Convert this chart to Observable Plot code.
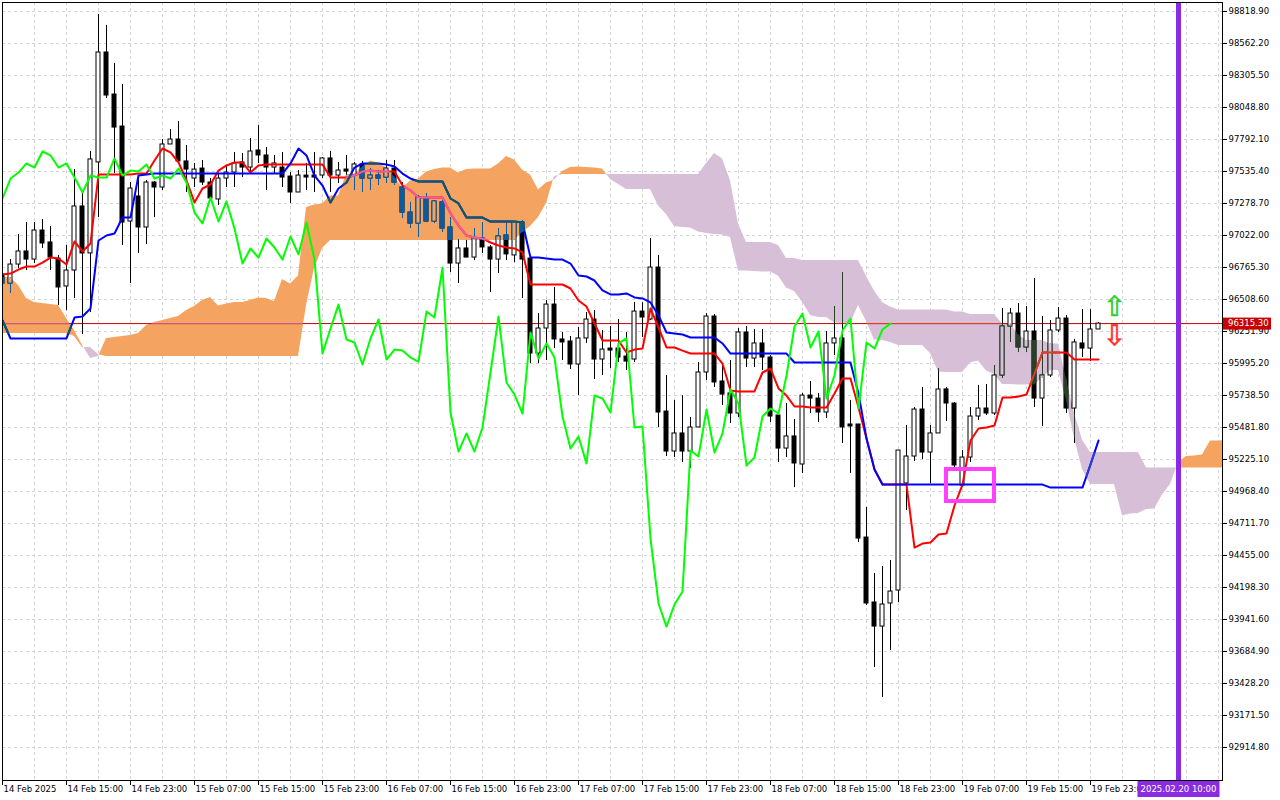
<!DOCTYPE html>
<html><head><meta charset="utf-8">
<script src="https://cdn.jsdelivr.net/npm/d3@7"></script>
<script src="https://cdn.jsdelivr.net/npm/@observablehq/plot@0.6"></script>
<style>
html,body{margin:0;padding:0;background:#fff;}
#chart{width:1280px;height:800px;}
</style></head><body><div id="chart"></div>
<script>
// ---- Hourly BTC candles, 14 Feb 2025 07:00 (bar 0) .. 20 Feb 2025 00:00 (bar 137)
const opens = [96709,96637,96789,96894,96829,97062,96966,96837,96613,96741,
97255,96878,97608,98490,98153,97896,97134,97335,97086,97447,
97407,97752,97792,97616,97479,97559,97447,97311,97479,97527,
97608,97567,97704,97664,97567,97567,97495,97367,97503,97503,
97503,97640,97503,97551,97503,97592,97479,97503,97487,97559,
97407,97206,97118,97319,97134,97287,97086,96797,96918,96845,
96998,96926,96829,97022,96862,97126,96837,96075,96276,96468,
96188,96172,95987,96196,96348,96027,96115,96115,96051,96027,
96412,96348,96765,95610,95289,95434,95289,95482,95923,96372,
95851,95755,95594,96244,96035,96156,96043,95578,95313,95410,
95185,95738,95714,95602,96156,96196,95506,95506,94599,94078,
93885,94070,94174,95033,95249,95626,95281,95434,95787,95674,
95016,95241,95570,95634,95594,95899,96292,96396,96124,96252,
95714,95899,96260,96356,95634,96156,96115,96268];
const highs = [96725,96829,97030,97126,97126,97150,97094,96862,96942,97551,
97375,97696,98795,98707,98402,98233,97447,97503,97463,97455,
97792,97872,97936,97744,97600,97624,97479,97519,97584,97688,
97680,97800,97904,97728,97664,97688,97527,97543,97600,97688,
97648,97696,97608,97664,97608,97616,97559,97543,97624,97624,
97447,97287,97343,97359,97303,97303,97166,96990,96982,97078,
97126,96942,97078,97126,97134,97142,96837,96396,96501,96605,
96244,96212,96284,96404,96420,96260,96292,96348,96244,96485,
96485,96998,96862,95899,95698,95738,95562,96003,96396,96388,
95995,96019,96276,96292,96268,96268,96059,95578,95674,95546,
95755,95851,95755,96252,96452,96725,95698,95506,94840,94311,
94367,94415,95297,95498,95642,95803,95498,95955,95803,95682,
95297,95642,95819,95827,95979,96436,96436,96476,96452,96677,
96372,96340,96444,96380,96188,96428,96428,96324];
const lows = [96557,96557,96757,96741,96797,96918,96741,96460,96420,96517,
96228,96404,97166,98121,97519,96942,96637,96878,96950,97166,
97383,97752,97608,97367,97407,97423,97303,97263,97407,97407,
97487,97527,97600,97383,97519,97407,97279,97367,97383,97367,
97479,97367,97439,97503,97383,97367,97383,97423,97439,97423,
97158,97078,97006,97126,97118,97046,96725,96637,96845,96821,
96878,96565,96717,96821,96805,96517,95995,95995,96019,96115,
96019,95947,95738,96156,95867,95899,95955,96003,95939,96003,
96204,96340,95482,95249,95241,95201,95153,95482,95859,95803,
95658,95514,95562,95963,95963,95939,95522,95201,95241,95000,
95113,95594,95522,95554,96059,95353,95113,94559,94054,93556,
93316,93693,94078,94816,95209,95225,95033,95434,95530,95161,
95000,95201,95538,95578,95578,95875,96164,96083,96083,95642,
95490,95883,96244,95594,95353,96043,96011,96268];
const closes = [96637,96789,96894,96829,97062,96958,96845,96605,96741,97255,
96878,97632,98490,98145,97888,97126,97399,97086,97447,97407,
97752,97792,97616,97551,97551,97447,97319,97479,97527,97600,
97567,97696,97664,97567,97600,97487,97367,97503,97487,97487,
97640,97503,97543,97535,97592,97479,97503,97479,97559,97447,
97206,97118,97327,97134,97295,97078,96797,96918,96845,96998,
96926,96829,97014,96870,97126,96829,96075,96276,96468,96188,
96164,95987,96196,96348,96027,96107,96099,96043,96011,96412,
96364,96765,95602,95289,95434,95289,95482,95923,96372,95843,
95746,95594,96244,96035,96156,96043,95570,95313,95410,95193,
95738,95714,95602,96156,96196,95482,95490,94591,94070,93885,
94062,94166,95297,95249,95626,95281,95434,95787,95674,95177,
95241,95570,95634,95594,95899,96292,96396,96124,96252,95714,
95899,96260,96356,95634,96164,96115,96268,96315.3];

// ---- Ichimoku lines (Tenkan-sen red, Kijun-sen blue), per bar
const tenkan = [96709,96717,96749,96773,96773,96805,96845,96837,96789,96974,
96894,96958,97511,97511,97511,97511,97511,97519,97519,97624,
97720,97688,97608,97463,97287,97399,97431,97543,97584,97608,
97608,97527,97584,97592,97592,97592,97592,97592,97592,97592,
97592,97487,97487,97487,97503,97535,97543,97535,97535,97535,
97423,97383,97327,97327,97327,97327,97198,97102,97022,97006,
96998,96966,96942,96926,96918,96886,96629,96629,96629,96629,
96629,96597,96501,96452,96316,96180,96180,96180,96083,96107,
96115,96436,96284,96124,96124,96099,96075,96075,96075,96075,
95995,95779,95771,95771,95771,95923,95955,95795,95738,95650,
95650,95642,95642,95642,95755,95875,95875,95642,95393,95145,
95024,95024,95024,95024,94519,94551,94559,94623,94631,94856,
95024,95377,95474,95482,95498,95722,95722,95730,95746,95915,
96083,96083,96083,96083,96027,96027,96027,96027];
const kijun = [96340,96196,96196,96196,96196,96196,96196,96196,96196,96364,
96372,96436,96982,97022,97038,97166,97166,97503,97511,97519,
97519,97519,97519,97519,97519,97519,97519,97519,97519,97519,
97519,97519,97519,97519,97519,97519,97600,97720,97664,97503,
97423,97287,97399,97447,97567,97600,97600,97600,97592,97575,
97519,97479,97455,97455,97455,97455,97319,97279,97166,97166,
97166,97134,97134,97134,97134,97126,96845,96845,96837,96829,
96829,96797,96701,96693,96661,96581,96549,96549,96557,96525,
96517,96485,96380,96244,96236,96228,96204,96204,96204,96204,
96156,96075,96075,96075,96075,96075,96075,96075,96075,96003,
96003,96003,96003,96003,96003,96003,96003,95755,95393,95145,
95024,95024,95024,95024,95024,95024,95024,95024,95024,95024,
95024,95024,95024,95024,95024,95024,95024,95024,95024,95024,
95024,95000,95000,95000,95000,95000,95185,95377];

// ---- Senkou spans (already displaced 26 bars forward), bar 0 .. 153
const spanA = [96685,96685,96621,96517,96485,96476,96468,96460,96356,96260,
96140,96035,96051,96196,96204,96212,96220,96236,96300,96324,
96340,96356,96372,96420,96452,96501,96525,96456,96472,96485,
96485,96501,96521,96517,96493,96669,96633,96697,97247,97267,
97275,97339,97339,97511,97515,97571,97620,97604,97563,97491,
97403,97459,97475,97531,97551,97563,97563,97523,97551,97555,
97555,97555,97596,97656,97628,97547,97507,97387,97443,97467,
97535,97567,97571,97567,97563,97555,97471,97431,97391,97391,
97391,97391,97259,97190,97094,97086,97082,97050,97038,97030,
97026,97006,96737,96737,96733,96729,96729,96697,96601,96573,
96489,96380,96364,96364,96320,96316,96316,96460,96332,96184,
96180,96164,96140,96140,96140,96140,96075,95927,95923,95923,
95923,95999,96015,95935,95907,95827,95827,95823,95823,95823,
95879,95939,95939,95698,95393,95145,95024,95024,95024,95024,
94772,94788,94792,94824,94828,94940,95024,95201,95249,95253,
95261,95373,95373,95377];
const spanB = [96236,96236,96236,96236,96236,96236,96236,96236,96236,96212,
96124,96124,96067,96051,96051,96051,96051,96051,96051,96051,
96051,96051,96051,96051,96051,96051,96051,96051,96051,96051,
96051,96051,96051,96051,96051,96051,96051,96051,96460,96757,
96918,96982,96982,96982,96982,96982,96982,96982,96982,96982,
96982,96982,96982,96982,96982,96982,96982,96982,96982,96982,
96982,96982,96982,96982,96982,97046,97094,97166,97279,97495,
97511,97511,97511,97511,97511,97511,97511,97511,97511,97511,
97511,97511,97511,97511,97511,97511,97511,97511,97600,97680,
97636,97459,97114,96966,96966,96966,96966,96942,96837,96837,
96821,96821,96821,96821,96821,96821,96821,96821,96693,96577,
96485,96448,96424,96424,96424,96424,96424,96424,96424,96408,
96408,96388,96388,96388,96388,96312,96312,96224,96180,96180,
96180,96152,96152,95863,95598,95380,95281,95281,95281,95281,
95281,95281,95281,95157,95157,95157,95157,95157,95157,95157,
95157,95157,95157,95157];
const chikouShift = 26;

// ---- axes
const priceTicks = [92914.8,93171.5,93428.2,93684.9,93941.6,94198.3,94455.0,94711.7,
94968.4,95225.1,95481.8,95738.5,95995.2,96251.9,96508.6,96765.3,97022.0,97278.7,
97535.4,97792.1,98048.8,98305.5,98562.2,98818.9];
const timeLabels = ["14 Feb 2025","14 Feb 15:00","14 Feb 23:00","15 Feb 07:00","15 Feb 15:00",
"15 Feb 23:00","16 Feb 07:00","16 Feb 15:00","16 Feb 23:00","17 Feb 07:00","17 Feb 15:00",
"17 Feb 23:00","18 Feb 07:00","18 Feb 15:00","18 Feb 23:00","19 Feb 07:00","19 Feb 15:00","19 Feb 23:00"];
const barsPerLabel = 8;

// ---- annotations
const lastPrice = 96315.3;
const markerBar = 147, markerLabel = "2025.02.20 10:00";
const signalBox = [{bar1: 118, bar2: 124, p1: 94888, p2: 95145}];
const upArrows = [{bar: 139, price: 96452}];
const downArrows = [{bar: 139, price: 96212}];

// ---- colours: normal, and as seen through the up (SandyBrown) / down (Thistle) kumo
const kumoColor = {up: "#f4a460", down: "#d8bfd8"};
const normal = {bar: "black", bull: "white", tenkan: "#ff0000", kijun: "#0000ff", price: "#c00000"};
const inside = {
  up:   {bar: "#0b5b9f", bull: "#f4a460", tenkan: "#f45b9f", kijun: "#0b5b60", price: "#cb5b9f"},
  down: {bar: "#274027", bull: "#d8bfd8", tenkan: "#d84027", kijun: "#2740d8", price: "#e74027"}
};

// ---- derived tables
const candles = opens.map((o, i) => ({i, o, h: highs[i], l: lows[i], c: closes[i]}));
const tk = tenkan.map((v, i) => ({i, v}));
const kj = kijun.map((v, i) => ({i, v}));
const chikou = closes.slice(chikouShift).map((v, i) => ({i, v}));
const timeTicks = timeLabels.map((label, k) => ({bar: k * barsPerLabel, label}));

// split kumo into up (A above B) and down parts at the crossings of the two spans
const pts = [];
for (let i = 0; i < spanA.length; i++) {
  const a = spanA[i], b = spanB[i];
  pts.push({x: i, a, b});
  if (i + 1 < spanA.length) {
    const d0 = a - b, d1 = spanA[i + 1] - spanB[i + 1];
    if (d0 * d1 < 0) {
      const t = d0 / (d0 - d1);
      const v = a + (spanA[i + 1] - a) * t;
      pts.push({x: i + t, a: v, b: v});
    }
  }
}
const kumoUp = pts.map(p => ({x: p.x, y1: p.a >= p.b ? p.b : NaN, y2: p.a >= p.b ? p.a : NaN}));
const kumoDown = pts.map(p => ({x: p.x, y1: p.b >= p.a ? p.a : NaN, y2: p.b >= p.a ? p.b : NaN}));

const FONT = "'DejaVu Sans', Tahoma, sans-serif";
const grid = {stroke: "#d4d4d4", strokeDasharray: "3,3", strokeWidth: 1};

// candle + line marks in a given palette
function priceMarks(pal, desc) {
  const a = desc ? {ariaDescription: desc} : {clip: true};
  return [
    Plot.ruleY([lastPrice], {stroke: pal.price, strokeWidth: 1, ...a}),
    Plot.ruleX(candles, {x: "i", y1: "l", y2: "h", stroke: pal.bar, strokeWidth: 1, ...a}),
    Plot.rect(candles, {x1: d => d.i - 0.25, x2: d => d.i + 0.25, y1: "o", y2: "c",
      fill: d => d.c >= d.o ? pal.bull : pal.bar, stroke: pal.bar, strokeWidth: 1, ...a}),
    Plot.line(tk, {x: "i", y: "v", stroke: pal.tenkan, strokeWidth: 2, ...a}),
    Plot.line(kj, {x: "i", y: "v", stroke: pal.kijun, strokeWidth: 2, ...a})
  ];
}

const plot = Plot.plot({
  width: 1280, height: 800,
  marginLeft: 2, marginRight: 58, marginTop: 2, marginBottom: 20,
  x: {domain: [0, 152.5], ticks: timeTicks.map(d => d.bar), tickSize: 5, tickFormat: () => "", label: null},
  y: {domain: [92650.1, 98891.1], axis: "right", ticks: priceTicks, tickFormat: d => d.toFixed(2), tickSize: 4, tickPadding: 2, label: null},
  style: {fontFamily: FONT, fontSize: "8.5px", background: "white", color: "black", overflow: "visible"},
  marks: [
    Plot.frame({fill: "white", stroke: null}),
    Plot.ruleY(priceTicks, grid),
    Plot.ruleX(d3.range(4, 153, 4), grid),
    Plot.areaY(kumoUp, {x: "x", y1: "y1", y2: "y2", fill: kumoColor.up, clip: true, ariaDescription: "kumo-up"}),
    Plot.areaY(kumoDown, {x: "x", y1: "y1", y2: "y2", fill: kumoColor.down, clip: true, ariaDescription: "kumo-down"}),
    ...priceMarks(normal),
    ...priceMarks(inside.up, "inside-up"),
    ...priceMarks(inside.down, "inside-down"),
    Plot.line(chikou, {x: "i", y: "v", stroke: "#00ff00", strokeWidth: 2, clip: true}),
    Plot.ruleX([markerBar], {stroke: "#8a2be2", strokeWidth: 5}),
    Plot.rect(signalBox, {x1: "bar1", x2: "bar2", y1: "p1", y2: "p2", fill: "none", stroke: "#ff40ff", strokeWidth: 4}),
    Plot.text(upArrows, {x: "bar", y: "price", text: () => "⇧", fill: "#33cc33", stroke: "#33cc33", strokeWidth: 0.6, fontSize: 28, fontFamily: "DejaVu Sans"}),
    Plot.text(downArrows, {x: "bar", y: "price", text: () => "⇩", fill: "#ff3030", stroke: "#ff3030", strokeWidth: 0.6, fontSize: 28, fontFamily: "DejaVu Sans"}),
    Plot.text(timeTicks, {x: "bar", text: "label", frameAnchor: "bottom", dy: 11, dx: 1, textAnchor: "start", fill: "black"}),
    Plot.frame({stroke: "black"})
  ]
});

document.getElementById("chart").appendChild(plot);

const sx = plot.scale("x"), sy = plot.scale("y");
const svg = d3.select(plot);

// restrict the "inside" copies to the kumo shapes
const defs = svg.insert("defs", ":first-child");
for (const side of ["up", "down"]) {
  const copies = svg.selectAll(`g[aria-description="inside-${side}"]`);
  let area = svg.select(`g[aria-description="kumo-${side}"]`);
  if (area.empty()) {
    const areas = svg.selectAll('g[aria-label="area"]').nodes();
    area = d3.select(areas[side === "up" ? 0 : 1] || null);
  }
  const paths = area.empty() ? [] : area.selectAll("path").nodes();
  if (!paths.length) { copies.remove(); continue; }
  const cp = defs.append("clipPath").attr("id", "kumo-clip-" + side);
  for (const p of paths) cp.append("path").attr("d", p.getAttribute("d"));
  copies.attr("clip-path", `url(#kumo-clip-${side})`);
}

// price tag and time tag placed with the plot's own scales
const right = sx.range[1];
const py = sy.apply(lastPrice) + 0.5;
const tags = svg.append("g").attr("font-family", FONT).attr("font-size", "8.5px").attr("text-anchor", "start");
tags.append("rect").attr("x", right + 1).attr("y", py - 6).attr("width", 48).attr("height", 12).attr("fill", "#c80000");
tags.append("text").attr("x", right + 6).attr("y", py).attr("dy", "0.32em").attr("fill", "white").text(lastPrice.toFixed(2));
const mx = sx.apply(markerBar) + 0.5;
const bottom = sy.range[0];
tags.append("rect").attr("x", mx - 41).attr("y", bottom + 1).attr("width", 82).attr("height", 16).attr("fill", "#8a2be2");
tags.append("text").attr("x", mx).attr("y", bottom + 9).attr("dy", "0.32em").attr("text-anchor", "middle").attr("fill", "white").text(markerLabel);
</script>
</body></html>
